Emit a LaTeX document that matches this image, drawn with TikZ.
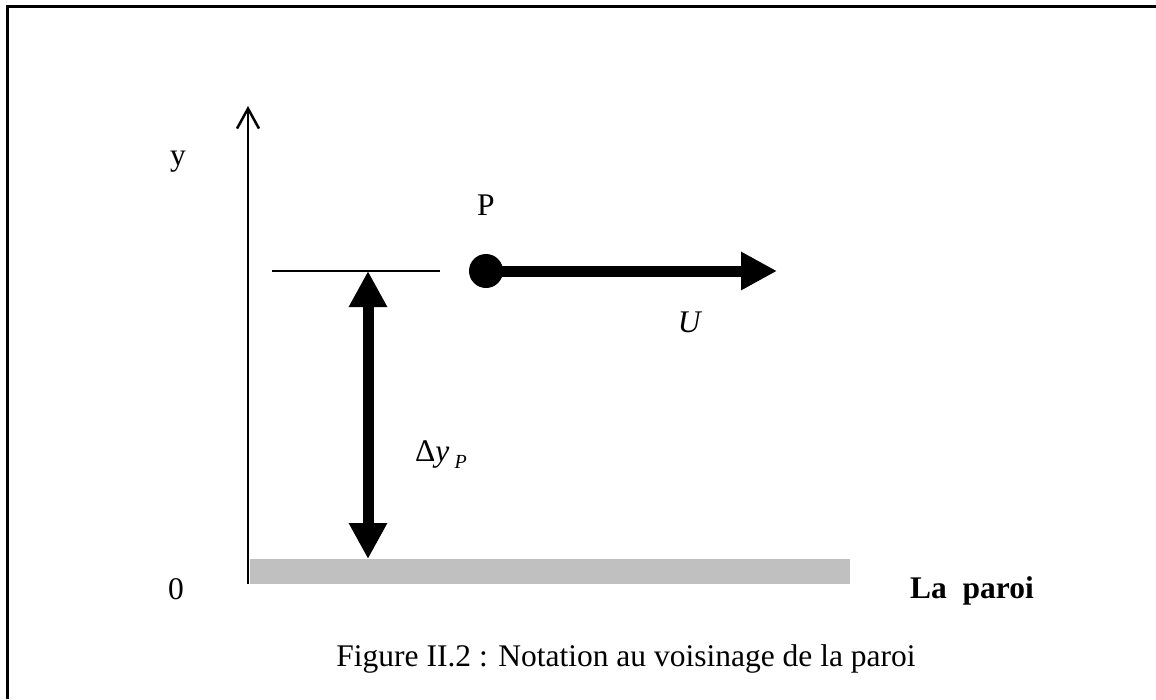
\documentclass[tikz,border=0pt]{standalone}
\usepackage{fontspec}
\setmainfont{Liberation Serif}
\usetikzlibrary{arrows.meta,positioning}

\begin{document}
\begin{tikzpicture}[
  x=1pt, y=-1pt,
  lbl/.style={inner sep=0pt, font=\fontsize{31.5}{36}\selectfont},
  bigarrow/.style={line width=11pt, -{Triangle[width=36pt, length=36pt]}},
  axis/.style={line width=2.5pt, -{Straight Barb[width=22pt, length=20pt, line width=2.5pt]}}
]
  \useasboundingbox (0,0) rectangle (1156,699);
  % frame
  \draw[line width=3pt] (7,699) -- (7,6) -- (1156,6);
  % wall
  \fill[fill={rgb,255:red,192;green,192;blue,192}] (250,559) rectangle (850,584);
  \coordinate (origin) at (248,584);
  \coordinate (ytop) at (248,106);
  \draw[axis] (origin) -- (ytop);
  \node[lbl] (ylabel) at (178,162) {y};
  \node[lbl] (zero) at (176,589) {0};
  % level of point P
  \coordinate (lvlA) at (272,271);
  \coordinate (lvlB) at (440,271);
  \draw[line width=1.8pt] (lvlA) -- (lvlB);
  \node[circle, fill, inner sep=0pt, minimum size=34pt] (P) at (486,271) {};
  \node[lbl, above=55pt of P.center] (Plabel) {P};
  \coordinate (Uend) at (777,271);
  \draw[bigarrow] (P.center) -- (Uend);
  \node[lbl] (Ulabel) at (690,322) {\textit{U}};
  % distance to the wall
  \coordinate (dtop) at (368,271);
  \coordinate (dbot) at (368,559);
  \draw[bigarrow, {Triangle[width=36pt, length=36pt]}-{Triangle[width=36pt, length=36pt]}] (dtop) -- (dbot);
  \node[lbl, anchor=west] (dy) at (415,455) {Δ\textit{y}\,\raisebox{-7pt}{\fontsize{20}{24}\selectfont\textit{P}}};
  \node[lbl, font=\fontsize{31.5}{36}\selectfont\bfseries] (wall) at (972,591) {La\ \ paroi};
  \node[lbl] (caption) at (626,659) {Figure II.2 : Notation au voisinage de la paroi};
\end{tikzpicture}
\end{document}
